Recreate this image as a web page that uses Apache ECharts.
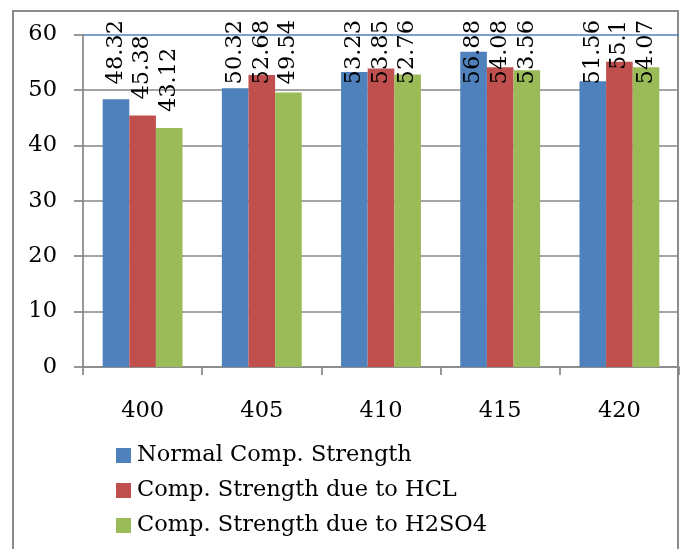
<!DOCTYPE html>
<html>
<head>
<meta charset="utf-8">
<script src="https://cdn.jsdelivr.net/npm/echarts@6/dist/echarts.min.js"></script>
<style>
html,body{margin:0;padding:0;background:#fff;}
#chart{width:684px;height:549px;}
</style>
</head>
<body>
<div id="chart"></div>
<script>
const categories = ['400', '405', '410', '415', '420'];
const seriesNames = ['Normal Comp. Strength', 'Comp. Strength due to HCL', 'Comp. Strength due to H2SO4'];
const normalStrength = [48.32, 50.32, 53.23, 56.88, 51.56];
const hclStrength = [45.38, 52.68, 53.85, 54.08, 55.1];
const h2so4Strength = [43.12, 49.54, 52.76, 53.56, 54.07];
const yTicks = { min: 0, max: 60, interval: 10 };

const colors = ['#4F81BD', '#C0504D', '#9BBB59'];
const FONT = 'DejaVu Serif';
const FS = 22.5;
const gray = '#868686';

const chart = echarts.init(document.getElementById('chart'), null, { renderer: 'canvas' });

function makeSeries(name, data, color) {
  return {
    name: name,
    type: 'bar',
    data: data,
    barGap: '0%',
    barCategoryGap: '33%',
    itemStyle: { color: color },
    label: {
      show: true,
      position: 'top',
      rotate: 90,
      align: 'left',
      verticalAlign: 'middle',
      distance: 16,
      color: '#000',
      fontFamily: FONT,
      fontSize: FS
    },
    labelLayout: function (p) {
      const len = p.labelRect.height;
      const natural = p.rect.y - 16;
      return { y: Math.max(natural, 20 + len) };
    },
    z: 3
  };
}

const option = {
  animation: false,
  backgroundColor: '#fff',
  grid: { left: 83, right: 5, top: 34.5, bottom: 182, containLabel: false },
  xAxis: {
    type: 'category',
    data: categories,
    axisLine: { show: true, lineStyle: { color: gray, width: 1.7 } },
    axisTick: { show: true, alignWithLabel: false, length: 8, lineStyle: { color: gray, width: 1.7 } },
    axisLabel: { color: '#000', fontFamily: FONT, fontSize: FS, margin: 33 },
    splitLine: { show: false }
  },
  yAxis: {
    type: 'value',
    min: yTicks.min,
    max: yTicks.max,
    interval: yTicks.interval,
    axisLine: { show: true, lineStyle: { color: gray, width: 1.7 } },
    axisTick: { show: true, length: 9, lineStyle: { color: gray, width: 1.7 } },
    axisLabel: { color: '#000', fontFamily: FONT, fontSize: FS, margin: 26 },
    splitLine: { show: true, lineStyle: { color: [gray, gray, gray, gray, gray, gray, '#4F81BD'], width: 1.7 } }
  },
  legend: {
    orient: 'vertical',
    left: 111,
    top: 439,
    itemWidth: 15,
    itemHeight: 15,
    itemGap: 12,
    icon: 'rect',
    textStyle: { color: '#000', fontFamily: FONT, fontSize: FS, lineHeight: 22, padding: [0, 0, 0, 1] },
    data: seriesNames
  },
  graphic: [{
    type: 'rect',
    shape: { x: 13, y: 11, width: 665, height: 600 },
    style: { fill: 'none', stroke: '#8c8c8c', lineWidth: 2 },
    silent: true,
    z: -1
  }],
  series: [
    makeSeries(seriesNames[0], normalStrength, colors[0]),
    makeSeries(seriesNames[1], hclStrength, colors[1]),
    makeSeries(seriesNames[2], h2so4Strength, colors[2])
  ]
};
chart.setOption(option);
</script>
</body>
</html>
